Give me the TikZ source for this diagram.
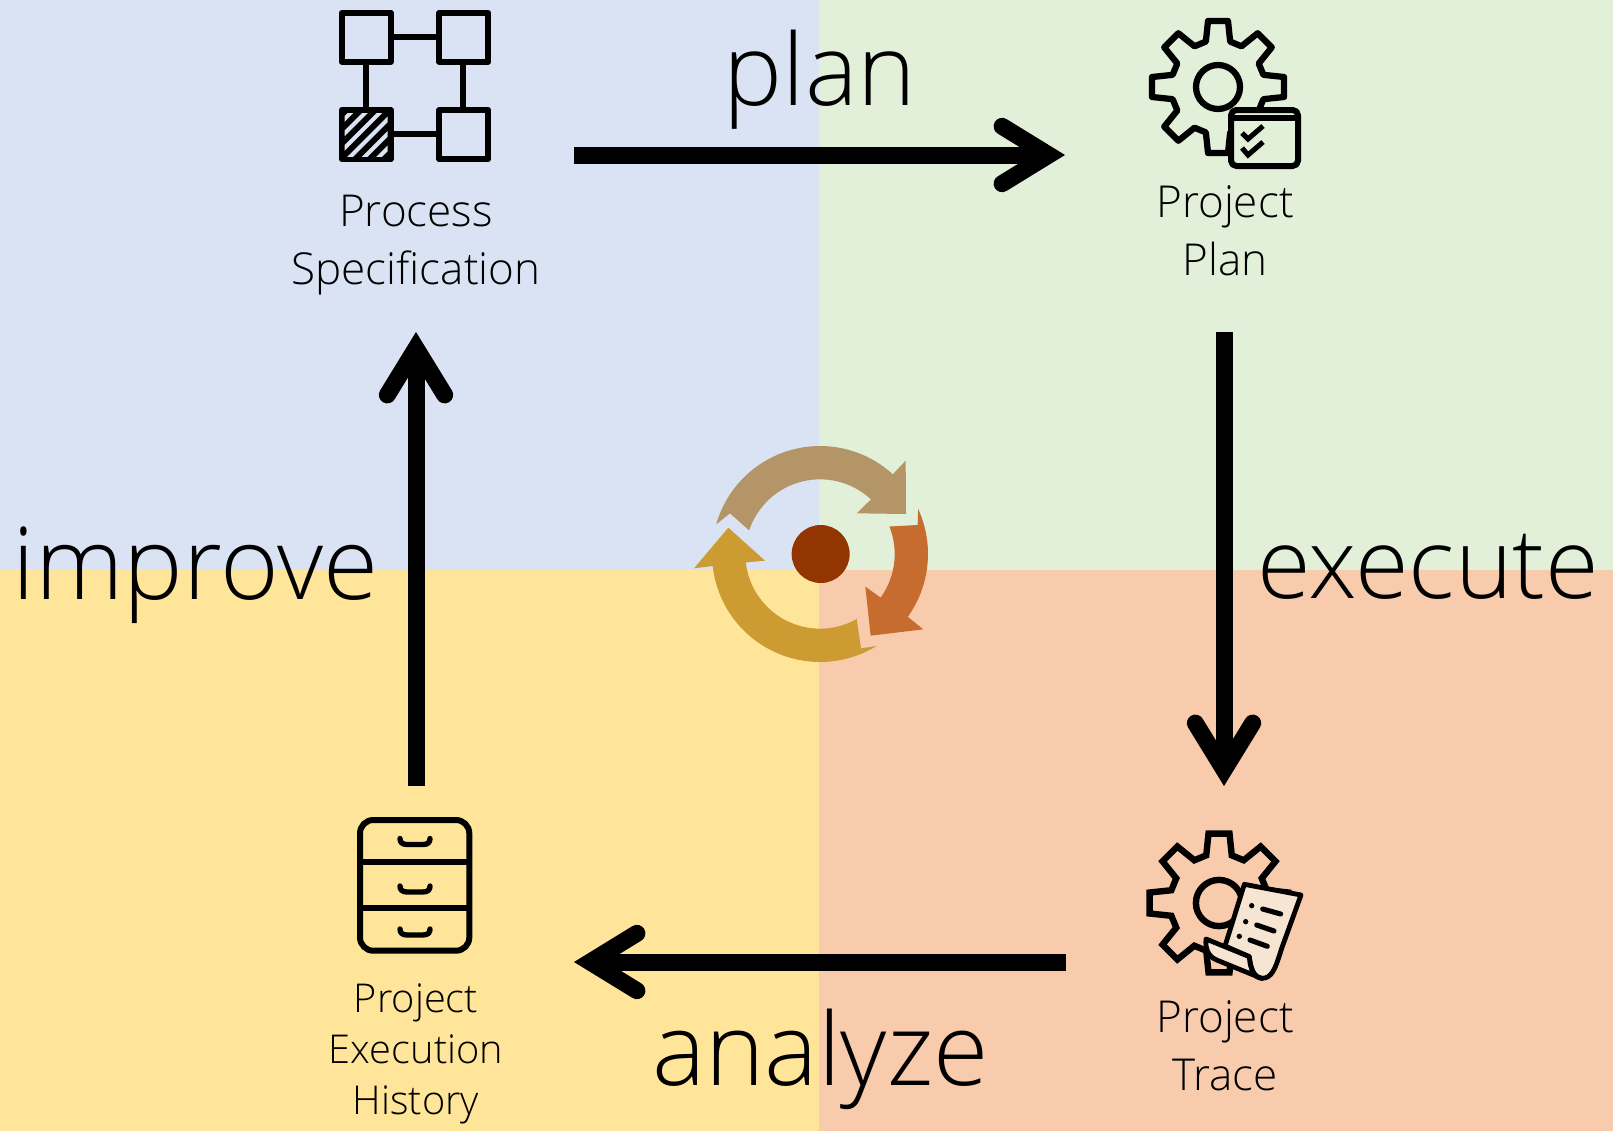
\documentclass[tikz,border=0pt]{standalone}
\usepackage{fontspec}
\setmainfont{Open Sans Light}
\usetikzlibrary{arrows.meta}
\definecolor{qblue}{HTML}{DAE3F3}
\definecolor{qgreen}{HTML}{E2F0D9}
\definecolor{qyellow}{HTML}{FFE599}
\definecolor{qorange}{HTML}{F8CBAD}
\definecolor{cyctan}{HTML}{B49568}
\definecolor{cycorange}{HTML}{C66C2E}
\definecolor{cycyellow}{HTML}{CC9C33}
\definecolor{cycdot}{HTML}{933500}
\definecolor{paper}{HTML}{F6E5D3}
\tikzset{
  flowarrow/.style={line width=12.75pt,-{Straight Barb[length=35pt,width=43pt,line cap=round,line join=miter]}},
  biglabel/.style={inner sep=0pt,anchor=base},
  smalllabel/.style={font=\fontsize{33}{43.5}\selectfont,align=center,inner sep=0pt},
  historylabel/.style={font=\fontsize{29.8}{38.5}\selectfont,align=center,inner sep=0pt},
  iconline/.style={line width=4.5pt,line join=round},
  paperline/.style={line width=3.6pt,line join=round},
  gearround/.style={line width=4.7pt,line join=round},
  gearsharp/.style={line width=4.8pt,line join=miter},
}
\newcommand{\gearshape}{(-15:47) \foreach \a in {0,45,...,315}{ -- (\a-15:47) -- (\a-8.6:66.8) -- (\a+8.6:66.8) -- (\a+15:47)} -- cycle}
\begin{document}
\begin{tikzpicture}[x=0.75pt,y=-0.75pt]
\useasboundingbox (0,0) rectangle (1613,1131);
% quadrants
\fill[qblue] (0,0) rectangle (819,570);
\fill[qgreen] (819,0) rectangle (1613,570);
\fill[qyellow] (0,570) rectangle (819,1131);
\fill[qorange] (819,570) rectangle (1613,1131);
% process icon
\begin{scope}[iconline]
\draw (390.7,36.7) -- (439.3,36.7);
\draw (390.7,134.3) -- (439.3,134.3);
\draw (366.3,61.7) -- (366.3,110);
\draw (463.3,61.7) -- (463.3,110);
\draw (341.7,12.7) rectangle (390.7,61.7);
\draw (439.3,12.7) rectangle (488.3,61.7);
\draw (439.3,110) rectangle (488.3,159.3);
\draw[fill=black] (341.7,110) rectangle (390.7,159.3);
\begin{scope}
\clip (344.7,113) rectangle (387.7,156.3);
\foreach \s in {463.5,478,492.5,507,521.5,536}{
  \draw[qblue,line width=3pt] (330,\s-330) -- (400,\s-400);
}
\end{scope}
\end{scope}
% plan icon
\begin{scope}[shift={(1218,87)}]
\draw[gearround] \gearshape;
\draw[gearround] (0,0) circle[radius=22];
\end{scope}
\draw[iconline,fill=qgreen,rounded corners=4pt] (1231,110) rectangle (1298,166);
\draw[iconline] (1231,118) -- (1298,118);
\draw[line width=3.8pt] (1242,133) -- (1248,139) -- (1263,126);
\draw[line width=3.8pt] (1242,148) -- (1248,155) -- (1263,142);
% trace icon
\begin{scope}[shift={(1219,903)},scale=1.05]
\draw[gearsharp] \gearshape;
\draw[gearsharp] (0,0) circle[radius=22];
\end{scope}
\begin{scope}[shift={(1130,815)},scale=1/3]
\draw[paperline,fill=paper] (343,208) -- (513,240) -- (455,400) .. controls (435,465) and (425,490) .. (395,490) .. controls (375,490) and (362,465) .. (358,425) -- (285,393) -- cycle;
\draw[paperline,fill=paper] (228,372) -- (358,425) .. controls (360,460) and (370,485) .. (395,490) -- (260,435) .. controls (235,425) and (225,400) .. (228,372) -- cycle;
\fill (365,272) circle[radius=8];
\fill (347,320) circle[radius=8];
\fill (328,364) circle[radius=8];
\draw[line width=3.8pt,line cap=round] (398,282) -- (452,297);
\draw[line width=3.8pt,line cap=round] (380,330) -- (432,348);
\draw[line width=3.8pt,line cap=round] (360,375) -- (412,394);
\end{scope}
% history icon
\draw[iconline,rounded corners=10pt] (360,820) rectangle (469.3,950.7);
\draw[iconline] (360,862.3) -- (469.3,862.3);
\draw[iconline] (360,908.3) -- (469.3,908.3);
\begin{scope}[line width=4pt,line cap=round]
\draw (400,838.5) .. controls (400,842) and (402,844.5) .. (407,844.5) -- (423,844.5) .. controls (428,844.5) and (430,842) .. (430,838.5);
\draw (400,886) .. controls (400,889.5) and (402,892) .. (407,892) -- (423,892) .. controls (428,892) and (430,889.5) .. (430,886);
\draw (400,929) .. controls (400,932.5) and (402,935) .. (407,935) -- (423,935) .. controls (428,935) and (430,932.5) .. (430,929);
\end{scope}
% cycle icon
\begin{scope}[shift={(680,430)},scale=1/3]
\fill[cyctan] plot[domain=195.9:312.4,samples=40] ({420+324*cos(\x)},{372+324*sin(\x)}) -- (677,92) -- (678,252) -- (530,250) -- plot[domain=313:198.4,samples=40] ({420+224*cos(\x)},{372+224*sin(\x)}) -- (150,250) -- cycle;
\fill[cycorange] plot[domain=-24.7:35.6,samples=30] ({420+324*cos(\x)},{372+324*sin(\x)}) -- (730,598) -- (572,617) -- (556,470) -- plot[domain=35.7:-21.6,samples=30] ({420+224*cos(\x)},{372+224*sin(\x)}) -- (713,285) -- cycle;
\fill[cycyellow] plot[domain=58.4:173.6,samples=40] ({420+324*cos(\x)},{372+324*sin(\x)}) -- (42,415) -- (145,293) -- (255,392) -- plot[domain=173.5:60.5,samples=40] ({420+224*cos(\x)},{372+224*sin(\x)}) -- (543,655) -- cycle;
\fill[cycdot] (422,372) circle[radius=87];
\end{scope}
% connector ends
\coordinate (planstart) at (574,155);
\coordinate (planend) at (1065,155);
\coordinate (execstart) at (1224,332);
\coordinate (execend) at (1224,786);
\coordinate (anastart) at (1066,962);
\coordinate (anaend) at (574,962);
\coordinate (impstart) at (416,786);
\coordinate (impend) at (416,332);
\draw[flowarrow] (planstart) -- (planend);
\draw[flowarrow] (execstart) -- (execend);
\draw[flowarrow] (anastart) -- (anaend);
\draw[flowarrow] (impstart) -- (impend);
% labels
\node[biglabel,font=\fontsize{74.5}{80}\selectfont] (plan) at (820,105) {plan};
\node[biglabel,font=\fontsize{75.2}{80}\selectfont] (improve) at (195.5,599) {improve};
\node[biglabel,font=\fontsize{73.2}{80}\selectfont] (execute) at (1428,598) {execute};
\node[biglabel,font=\fontsize{75.5}{80}\selectfont] (analyze) at (820.4,1085) {analyze};
\node[smalllabel] (spec) at (416,245) {Process\\Specification};
\node[smalllabel] (pplan) at (1225,231) {Project\\Plan};
\node[smalllabel] (trace) at (1225,1046) {Project\\Trace};
\node[historylabel] (history) at (416,1054) {Project\\Execution\\History};
\end{tikzpicture}
\end{document}
